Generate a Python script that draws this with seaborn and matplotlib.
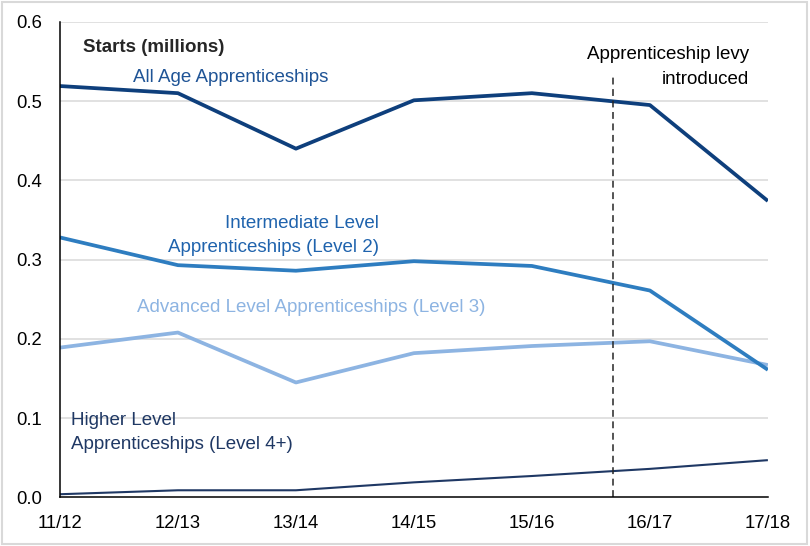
import pandas as pd
import matplotlib.pyplot as plt
import seaborn as sns

years = ["11/12", "12/13", "13/14", "14/15", "15/16", "16/17", "17/18"]
all_age = [0.519, 0.510, 0.440, 0.501, 0.510, 0.495, 0.374]
intermediate = [0.328, 0.293, 0.286, 0.298, 0.292, 0.261, 0.161]
advanced = [0.189, 0.208, 0.145, 0.182, 0.191, 0.197, 0.167]
higher = [0.004, 0.009, 0.009, 0.019, 0.027, 0.036, 0.047]
levy_pos = 4.69  # between 15/16 and 16/17

sns.set_style("white")
plt.rcParams["font.family"] = ["Liberation Sans", "DejaVu Sans"]

fig = plt.figure(figsize=(8.1, 5.46), dpi=100)
ax = fig.add_axes([0.074, 0.089, 0.874, 0.871])

df = pd.DataFrame({
    "year": years * 4,
    "starts": all_age + intermediate + advanced + higher,
    "series": ["all"] * 7 + ["int"] * 7 + ["adv"] * 7 + ["hig"] * 7,
})
colors = {"all": "#0E3F7C", "int": "#2E7DC0", "adv": "#8DB4E2", "hig": "#1F3864"}
widths = {"all": 2.7, "int": 2.7, "adv": 2.7, "hig": 1.5}

for key in ["hig", "adv", "int", "all"]:
    sns.lineplot(data=df[df.series == key], x="year", y="starts", ax=ax,
                 color=colors[key], linewidth=widths[key], legend=False,
                 solid_capstyle="butt")

ax.axvline(levy_pos, ymin=0, ymax=0.885, color="#262626", linestyle=(0, (4.5, 3)),
           linewidth=1.1)

ax.set_xlim(0, 6)
ax.set_ylim(0, 0.6)
ax.set_yticks([0, 0.1, 0.2, 0.3, 0.4, 0.5, 0.6])
ax.set_yticklabels(["0.0", "0.1", "0.2", "0.3", "0.4", "0.5", "0.6"])
ax.set_xlabel("")
ax.set_ylabel("")
for y in [0.1, 0.2, 0.3, 0.4, 0.5, 0.6]:
    ax.axhline(y, color="#D9D9D9", linewidth=1.1, zorder=0)

for s in ["top", "right"]:
    ax.spines[s].set_visible(False)
for s in ["left", "bottom"]:
    ax.spines[s].set_color("black")
    ax.spines[s].set_linewidth(1.1)
ax.tick_params(axis="both", direction="out", length=5, width=1.1, colors="black",
               labelsize=13.3)
ax.tick_params(axis="y", pad=8)
ax.tick_params(axis="x", pad=8)

fs = 13.5
ax.text(0.032, 0.947, "Starts (millions)", transform=ax.transAxes, fontsize=fs,
        fontweight="bold", va="center", ha="left")
ax.text(0.62, 0.530, "All Age Apprenticeships", fontsize=fs, color="#1F5496",
        va="center", ha="left")
ax.text(2.7, 0.330, "Intermediate Level\nApprenticeships (Level 2)", fontsize=fs,
        color="#1F63AD", va="center", ha="right", linespacing=1.55)
ax.text(0.65, 0.239, "Advanced Level Apprenticeships (Level 3)", fontsize=fs,
        color="#8DB4E2", va="center", ha="left")
ax.text(0.09, 0.082, "Higher Level\nApprenticeships (Level 4+)", fontsize=fs,
        color="#1F3864", va="center", ha="left", linespacing=1.55)
ax.text(5.84, 0.543, "Apprenticeship levy\nintroduced", fontsize=fs,
        color="black", va="center", ha="right", linespacing=1.55)

fig.add_artist(plt.Rectangle((0.003, 0.004), 0.993, 0.992, transform=fig.transFigure,
                             fill=False, edgecolor="#D9D9D9", linewidth=1.5))

fig.savefig("out.png", dpi=100)
